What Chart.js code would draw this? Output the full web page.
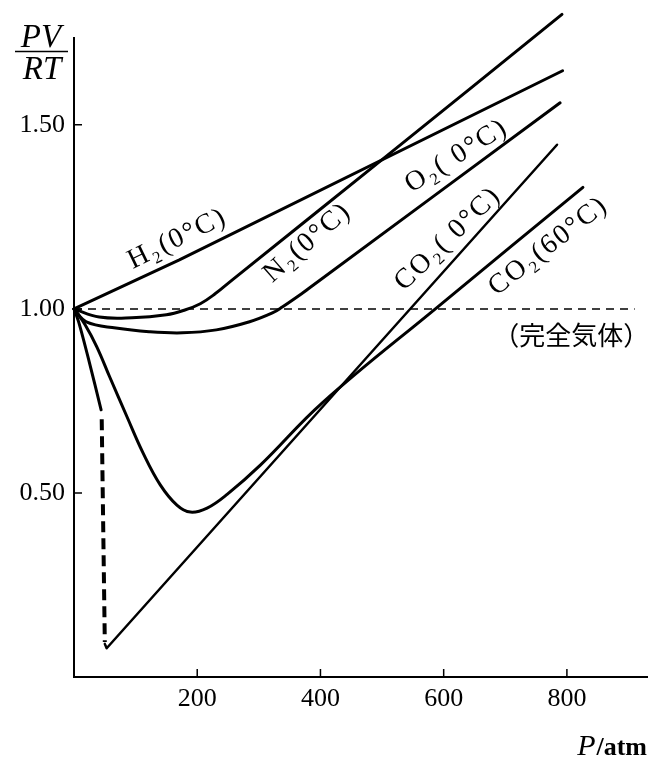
<!DOCTYPE html>
<html lang="ja">
<head>
<meta charset="UTF-8">
<title>PV/RT</title>
<style>
  body { margin: 0; background: #fff; }
  #chart { display: block; }
</style>
</head>
<body>
<canvas id="chart" width="648" height="760"></canvas>
<script src="https://cdn.jsdelivr.net/npm/chart.js@4.4.1/dist/chart.umd.min.js"></script>
<script>
// pressure (atm) and PV/RT for each gas
const h2P = [0, 171, 793];
const h2Z = [1.00, 1.133, 1.647];

const n2P = [0, 41, 94, 150, 180, 205, 229, 257, 496, 792];
const n2Z = [1.00, 0.978, 0.976, 0.984, 0.997, 1.014, 1.041, 1.079, 1.40, 1.80];

const o2P = [0, 20, 68, 122, 176, 231, 285, 322, 338, 371, 382, 789];
const o2Z = [1.00, 0.965, 0.948, 0.938, 0.935, 0.943, 0.965, 0.989, 1.005, 1.043, 1.057, 1.56];

// CO2 at 0°C: gas branch, condensation (dashed), liquid branch
const co2GasP = [0, 8, 24, 44];
const co2GasZ = [1.00, 0.962, 0.861, 0.726];
const co2CondP = [45, 50];
const co2CondZ = [0.70, 0.095];
const co2LiqP = [50, 53, 784];
const co2LiqZ = [0.09, 0.078, 1.446];

const co260P = [0, 18, 37, 58, 86, 112, 140, 167, 189, 216, 249, 302, 403, 590, 826];
const co260Z = [1.00, 0.957, 0.897, 0.815, 0.707, 0.609, 0.522, 0.467, 0.448, 0.459, 0.497, 0.575, 0.745, 1.005, 1.33];

const idealP = [0, 910];
const idealZ = [1.00, 1.00];

const xTicks = [200, 400, 600, 800];
const yTicks = [0.50, 1.00, 1.50];

const SERIF = "'Liberation Serif', 'Times New Roman', serif";
const GOTHIC = "'Noto Sans CJK JP', 'Noto Sans', sans-serif";

function pts(p, z) {
  return p.map((v, i) => ({ x: v, y: z[i] }));
}

function curve(p, z, width, tension) {
  return {
    data: pts(p, z),
    borderColor: '#000',
    borderWidth: width,
    borderCapStyle: 'round',
    borderJoinStyle: 'round',
    pointRadius: 0,
    tension: tension,
    clip: false
  };
}

// rotated curve names, anchored in data units
const curveLabels = [
  { text: 'H₂(0°C)', p: 168, z: 1.19, angle: -26 },
  { text: 'N₂(0°C)', p: 379, z: 1.18, angle: -41 },
  { text: 'O₂( 0°C)', p: 621, z: 1.415, angle: -32 },
  { text: 'CO₂( 0°C)', p: 607, z: 1.19, angle: -44 },
  { text: 'CO₂(60°C)', p: 770, z: 1.17, angle: -38 }
];

const decor = {
  id: 'decor',
  afterDraw(chart) {
    const { ctx, scales: { x, y } } = chart;
    ctx.save();
    ctx.strokeStyle = '#000';
    ctx.fillStyle = '#000';
    ctx.lineWidth = 1.5;

    // tick marks point into the plot
    ctx.beginPath();
    xTicks.forEach(v => {
      const px = x.getPixelForValue(v);
      ctx.moveTo(px, y.bottom);
      ctx.lineTo(px, y.bottom - 8);
    });
    yTicks.forEach(v => {
      const py = y.getPixelForValue(v);
      ctx.moveTo(x.left, py);
      ctx.lineTo(x.left + 8, py);
    });
    ctx.stroke();

    // curve names
    ctx.textAlign = 'center';
    ctx.textBaseline = 'middle';
    ctx.font = '28px ' + SERIF;
    ctx.letterSpacing = '2px';
    curveLabels.forEach(l => {
      ctx.save();
      ctx.translate(x.getPixelForValue(l.p), y.getPixelForValue(l.z));
      ctx.rotate(l.angle * Math.PI / 180);
      ctx.fillText(l.text, 0, 0);
      ctx.restore();
    });
    ctx.letterSpacing = '0px';

    ctx.font = '26px ' + GOTHIC;
    ctx.fillText('（完全気体）', x.getPixelForValue(807), y.getPixelForValue(0.93));

    // y title as a fraction
    ctx.font = 'italic 33px ' + SERIF;
    ctx.textBaseline = 'alphabetic';
    ctx.fillText('PV', 41, 47);
    ctx.fillText('RT', 42, 79);
    ctx.beginPath();
    ctx.moveTo(15, 51.5);
    ctx.lineTo(68, 51.5);
    ctx.stroke();

    // x title
    ctx.textAlign = 'right';
    ctx.font = 'bold 26px ' + SERIF;
    ctx.fillText('/atm', 647, 755);
    const w = ctx.measureText('/atm').width;
    ctx.font = 'italic 30px ' + SERIF;
    ctx.fillText('P', 647 - w - 1, 755);
    ctx.restore();
  }
};

const ctx = document.getElementById('chart');

new Chart(ctx, {
  type: 'line',
  data: {
    datasets: [
      Object.assign(curve(idealP, idealZ, 1.5, 0), { borderDash: [8, 6], borderCapStyle: 'butt' }),
      curve(h2P, h2Z, 3, 0),
      curve(n2P, n2Z, 3, 0.4),
      curve(o2P, o2Z, 3, 0.4),
      curve(co2GasP, co2GasZ, 3, 0.3),
      Object.assign(curve(co2CondP, co2CondZ, 4, 0), { borderDash: [11, 6], borderCapStyle: 'butt' }),
      curve(co2LiqP, co2LiqZ, 2.5, 0),
      curve(co260P, co260Z, 3, 0.4)
    ]
  },
  options: {
    responsive: false,
    animation: false,
    events: [],
    layout: { padding: { top: 38, right: 1, left: 0, bottom: 0 } },
    plugins: {
      legend: { display: false },
      tooltip: { enabled: false }
    },
    scales: {
      x: {
        type: 'linear',
        min: 0,
        max: 930,
        afterBuildTicks: s => { s.ticks = xTicks.map(v => ({ value: v })); },
        afterFit: s => { s.height = 83; },
        grid: { drawOnChartArea: false, drawTicks: false },
        border: { color: '#000', width: 2 },
        ticks: { color: '#000', padding: 7, font: { family: SERIF, size: 26 } }
      },
      y: {
        type: 'linear',
        min: 0,
        max: 1.736,
        afterBuildTicks: s => { s.ticks = yTicks.map(v => ({ value: v })); },
        afterFit: s => { s.width = 74; },
        grid: { drawOnChartArea: false, drawTicks: false },
        border: { color: '#000', width: 2 },
        ticks: {
          color: '#000',
          padding: 9,
          font: { family: SERIF, size: 26 },
          callback: v => v.toFixed(2)
        }
      }
    }
  },
  plugins: [decor]
});
</script>
</body>
</html>
